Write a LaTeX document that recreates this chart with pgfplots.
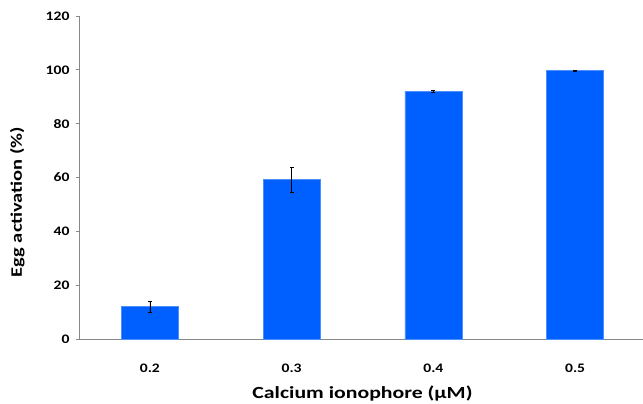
\documentclass[border=0pt]{standalone}
\usepackage{pgfplots}
\pgfplotsset{compat=1.18}
\usepackage{fontspec}
\setmainfont{Carlito}
\newfontfamily\tickfont[FakeStretch=1.2]{Carlito}
\newfontfamily\xlabfont[FakeStretch=1.28]{Carlito}
\newfontfamily\ylabfont[FakeStretch=1.28]{Carlito}
\definecolor{barblue}{RGB}{0,96,255}
\definecolor{axgray}{RGB}{135,135,135}
\begin{document}
\begin{tikzpicture}
\useasboundingbox (-79pt,-65pt) rectangle (564pt,339pt);
\begin{axis}[
  scale only axis,
  width=567pt, height=323pt,
  xmin=-0.5, xmax=3.5, ymin=0, ymax=120,
  axis x line=bottom, axis y line=left,
  axis line style={-, axgray, line width=0.8pt},
  xtick={0,1,2,3},
  xticklabels={0.2,0.3,0.4,0.5},
  major x tick style={draw=none},
  extra x ticks={0.5,1.5,2.5},
  extra x tick labels={},
  extra x tick style={major tick length=4pt, tick style={axgray, line width=0.8pt}, tick align=outside},
  ytick={0,20,...,120},
  tick align=outside,
  major tick length=3pt,
  tick style={axgray, line width=0.8pt},
  /pgf/number format/assume math mode=true,
  tick label style={font=\tickfont\bfseries\fontsize{13}{15}\selectfont},
  xticklabel style={anchor=center, yshift=-26pt},
  yticklabel style={anchor=east, xshift=-3pt},
  xlabel={Calcium ionophore (μM)},
  xlabel style={font=\xlabfont\bfseries\fontsize{17}{20}\selectfont, at={(axis description cs:0.5,0)}, anchor=center, yshift=-55pt},
  clip=false,
]
\addplot[ybar, bar width=57pt, fill=barblue, draw=barblue!70!white,
  error bars/.cd, y dir=both, y explicit,
  error bar style={black, line width=0.6pt},
  error mark options={rotate=90, mark size=2pt, black, line width=0.6pt}]
  coordinates {
    (0,12) +- (0,2)
    (1,59.2) +- (0,4.7)
    (2,92) +- (0,0.5)
    (3,99.7) +- (0,0.2)
  };
\node[rotate=90, anchor=center, inner sep=0pt, font=\ylabfont\bfseries\fontsize{16}{19}\selectfont]
  at (axis description cs:-0.109,0.424) {Egg activation (\%)};
\end{axis}
\end{tikzpicture}
\end{document}
